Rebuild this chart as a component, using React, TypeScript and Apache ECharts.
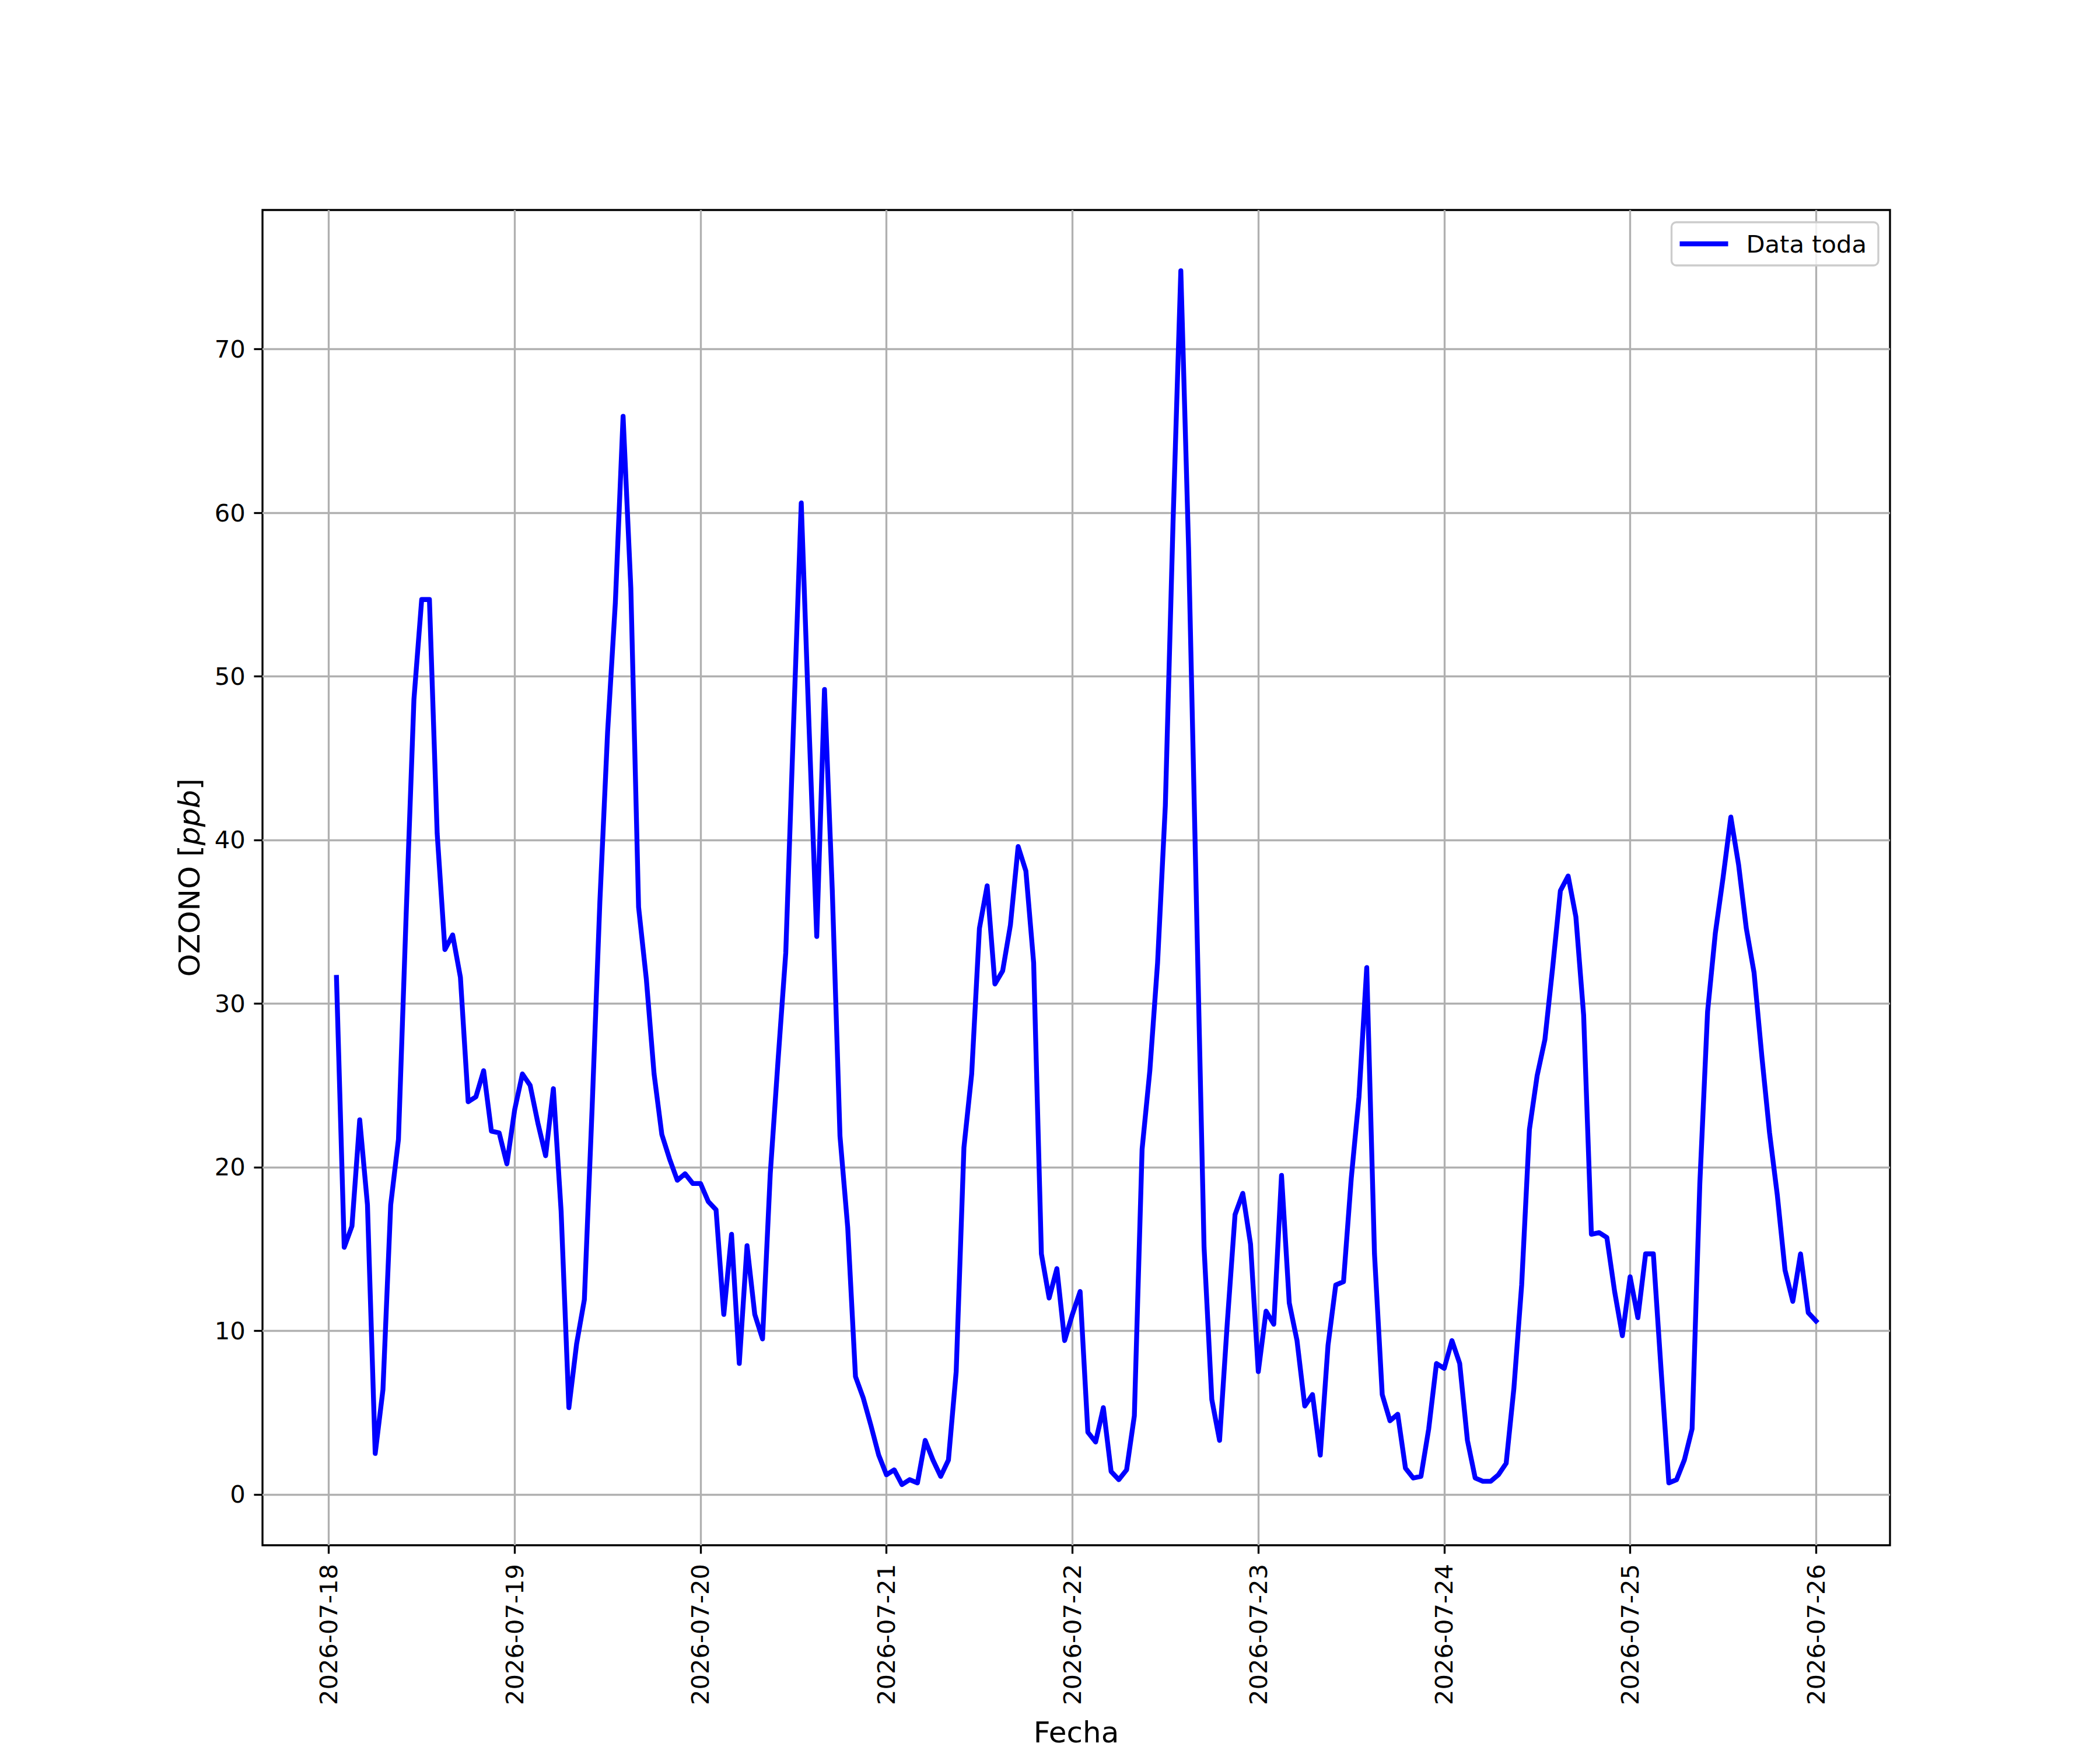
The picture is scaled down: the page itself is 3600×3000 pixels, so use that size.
import React, { useEffect, useRef } from "react";
import * as echarts from "echarts";

// Hourly ozone readings, starting 2026-07-18 01:00, one per hour
const startHour = 1; // hours after 2026-07-18 00:00
const ozone: number[] = [
  // 2026-07-18 01:00 .. 2026-07-19 00:00
  31.6, 15.1, 16.4, 22.9, 17.7, 2.5, 6.4, 17.7, 21.7, 35.5, 48.6, 54.7,
  54.7, 40.4, 33.3, 34.2, 31.6, 24.0, 24.3, 25.9, 22.2, 22.1, 20.2, 23.5,
  // 2026-07-19
  25.7, 25.0, 22.7, 20.7, 24.8, 17.3, 5.3, 9.2, 11.9, 23.6, 36.2, 46.6,
  54.5, 65.9, 55.4, 35.9, 31.5, 25.7, 22.0, 20.5, 19.2, 19.6, 19.0, 19.0,
  // 2026-07-20
  17.9, 17.4, 11.0, 15.9, 8.0, 15.2, 11.0, 9.5, 19.6, 26.5, 33.1, 47.0,
  60.6, 47.0, 34.1, 49.2, 37.0, 21.9, 16.3, 7.2, 5.9, 4.2, 2.4, 1.2,
  // 2026-07-21
  1.5, 0.6, 0.9, 0.7, 3.3, 2.1, 1.1, 2.1, 7.5, 21.2, 25.7, 34.6,
  37.2, 31.2, 32.0, 34.8, 39.6, 38.1, 32.5, 14.7, 12.0, 13.8, 9.4, 11.0,
  // 2026-07-22
  12.4, 3.8, 3.2, 5.3, 1.4, 0.9, 1.5, 4.8, 21.1, 25.9, 32.5, 42.1,
  59.5, 74.8, 57.9, 36.5, 15.1, 5.8, 3.3, 10.5, 17.1, 18.4, 15.3, 7.5,
  // 2026-07-23
  11.2, 10.4, 19.5, 11.7, 9.4, 5.4, 6.1, 2.4, 9.1, 12.8, 13.0, 19.3,
  24.3, 32.2, 14.7, 6.1, 4.5, 4.9, 1.6, 1.0, 1.1, 4.0, 8.0, 7.7,
  // 2026-07-24
  9.4, 8.0, 3.3, 1.0, 0.8, 0.8, 1.2, 1.9, 6.5, 12.8, 22.3, 25.6,
  27.8, 32.2, 36.9, 37.8, 35.3, 29.3, 15.9, 16.0, 15.7, 12.4, 9.7, 13.3,
  // 2026-07-25
  10.8, 14.7, 14.7, 7.6, 0.7, 0.9, 2.1, 4.0, 19.0, 29.5, 34.3, 37.7,
  41.4, 38.5, 34.6, 31.9, 26.8, 22.1, 18.3, 13.7, 11.8, 14.7, 11.1, 10.6,
];

const dayLabels: string[] = [
  "2026-07-18", "2026-07-19", "2026-07-20", "2026-07-21", "2026-07-22",
  "2026-07-23", "2026-07-24", "2026-07-25", "2026-07-26",
];
const dayTicks: number[] = [0, 24, 48, 72, 96, 120, 144, 168, 192];
const yTicks: number[] = [0, 10, 20, 30, 40, 50, 60, 70];

const FONT = "DejaVu Sans";
const PX = 300 / 72; // points to pixels at 300 dpi

export default function App() {
  const ref = useRef<HTMLDivElement>(null);

  useEffect(() => {
    if (!ref.current) return;
    const chart = echarts.init(ref.current, null, { renderer: "svg" });

    const data = ozone.map((v, i) => [startHour + i, v]);
    const xFirst = startHour;
    const xLast = startHour + ozone.length - 1;
    const xPad = (xLast - xFirst) * 0.05;
    const yMinV = Math.min(...ozone);
    const yMaxV = Math.max(...ozone);
    const yPad = (yMaxV - yMinV) * 0.05;

    const tickFont = 10 * PX;
    const labelFont = 12 * PX;
    const lw = 0.8 * PX;

    chart.setOption({
      animation: false,
      backgroundColor: "#ffffff",
      textStyle: { fontFamily: FONT },
      grid: {
        left: 450,
        right: 360,
        top: 360,
        bottom: 330,
        show: true,
        borderColor: "#000000",
        borderWidth: lw,
        backgroundColor: "transparent",
        containLabel: false,
      },
      legend: {
        right: 380,
        top: 381,
        orient: "horizontal",
        icon: "rect",
        itemWidth: 83,
        itemHeight: 2 * PX,
        itemGap: 0,
        padding: [16, 20, 16, 14],
        backgroundColor: "rgba(255,255,255,0.8)",
        borderColor: "#cccccc",
        borderWidth: lw,
        borderRadius: 8,
        textStyle: {
          fontFamily: FONT,
          fontSize: tickFont,
          color: "#000000",
          padding: [0, 0, 0, 26],
        },
        data: ["Data toda"],
      },
      xAxis: {
        type: "value",
        position: "bottom",
        min: xFirst - xPad,
        max: xLast + xPad,
        name: "Fecha",
        nameLocation: "middle",
        nameGap: 296,
        nameTextStyle: { fontFamily: FONT, fontSize: labelFont, color: "#000" },
        axisLine: { show: false, onZero: false },
        axisTick: {
          show: true,
          customValues: dayTicks,
          length: 3.5 * PX,
          lineStyle: { color: "#000", width: lw },
        },
        axisLabel: {
          show: true,
          customValues: dayTicks,
          rotate: 90,
          margin: 32,
          fontFamily: FONT,
          fontSize: tickFont,
          color: "#000",
          formatter: (v: number) => dayLabels[Math.round(v / 24)] ?? "",
        },
        splitLine: {
          show: true,
          lineStyle: { color: "#b0b0b0", width: lw },
        },
      },
      yAxis: {
        type: "value",
        position: "left",
        min: yMinV - yPad,
        max: yMaxV + yPad,
        name: "OZONO [{i|ppb}]",
        nameLocation: "middle",
        nameGap: 100,
        nameTextStyle: {
          fontFamily: FONT,
          fontSize: labelFont,
          color: "#000",
          rich: {
            i: { fontFamily: FONT, fontSize: labelFont, fontStyle: "italic", color: "#000" },
          },
        },
        axisLine: { show: false, onZero: false },
        axisTick: {
          show: true,
          customValues: yTicks,
          length: 3.5 * PX,
          lineStyle: { color: "#000", width: lw },
        },
        axisLabel: {
          show: true,
          customValues: yTicks,
          margin: 3.5 * PX + 3.5 * PX,
          fontFamily: FONT,
          fontSize: tickFont,
          color: "#000",
        },
        splitLine: {
          show: true,
          lineStyle: { color: "#b0b0b0", width: lw },
        },
      },
      series: [
        {
          name: "Data toda",
          type: "line",
          data,
          showSymbol: false,
          symbol: "none",
          lineStyle: { color: "#0000ff", width: 2 * PX, join: "round", cap: "square" },
          itemStyle: { color: "#0000ff" },
          z: 3,
        },
      ],
    });

    return () => chart.dispose();
  }, []);

  return (
    <div
      ref={ref}
      style={{ position: "absolute", left: 0, top: 0, width: 3600, height: 3000 }}
    />
  );
}
